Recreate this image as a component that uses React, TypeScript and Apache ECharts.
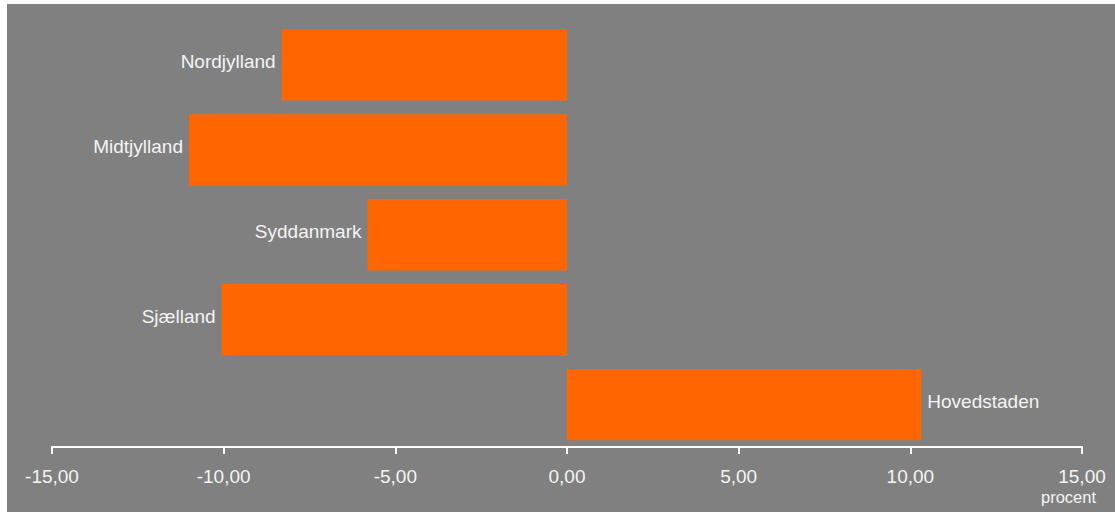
import React, { useEffect, useRef } from "react";
import * as echarts from "echarts";

const regions = ["Nordjylland", "Midtjylland", "Syddanmark", "Sjælland", "Hovedstaden"];
const values = [-8.31, -11.01, -5.81, -10.06, 10.32];
const xMin = -15;
const xMax = 15;
const xStep = 5;
const unitLabel = "procent";

const FONT = "'Liberation Sans', Arial, sans-serif";
const TEXT = "#f4f4f4";

export default function App() {
  const ref = useRef<HTMLDivElement>(null);
  useEffect(() => {
    if (!ref.current) return;
    const chart = echarts.init(ref.current, undefined, { renderer: "svg" });
    chart.setOption({
      animation: false,
      backgroundColor: "transparent",
      graphic: [
        {
          type: "rect",
          z: -10,
          silent: true,
          shape: { x: 7, y: 4, width: 1108, height: 508 },
          style: { fill: "#808080" },
        },
        {
          type: "text",
          z: 10,
          right: 19,
          top: 488,
          style: { text: unitLabel, fill: TEXT, font: `16.5px ${FONT}` },
        },
      ],
      grid: { left: 52, right: 33, top: 22.5, bottom: 68, containLabel: false },
      xAxis: {
        type: "value",
        min: xMin,
        max: xMax,
        interval: xStep,
        axisLine: { show: true, onZero: false, lineStyle: { color: "#ffffff", width: 2 } },
        axisTick: { show: true, length: 7, lineStyle: { color: "#ffffff", width: 2 } },
        splitLine: { show: false },
        axisLabel: {
          color: TEXT,
          fontFamily: FONT,
          fontSize: 19,
          margin: 20,
          formatter: (v: number) => v.toFixed(2).replace(".", ","),
        },
      },
      yAxis: {
        type: "category",
        data: regions,
        inverse: true,
        axisLine: { show: false },
        axisTick: { show: false },
        axisLabel: { show: false },
        splitLine: { show: false },
      },
      series: [
        {
          type: "bar",
          barCategoryGap: "16%",
          itemStyle: { color: "#FF6600" },
          data: values.map((v) => ({
            value: v,
            label: {
              show: true,
              position: v < 0 ? "left" : "right",
              distance: 6,
              formatter: "{b}",
              color: TEXT,
              fontFamily: FONT,
              fontSize: 19,
              offset: [0, -3],
            },
          })),
        },
      ],
    });
    return () => chart.dispose();
  }, []);
  return (
    <div
      ref={ref}
      style={{ position: "absolute", left: 0, top: 0, width: 1115, height: 515 }}
    />
  );
}
